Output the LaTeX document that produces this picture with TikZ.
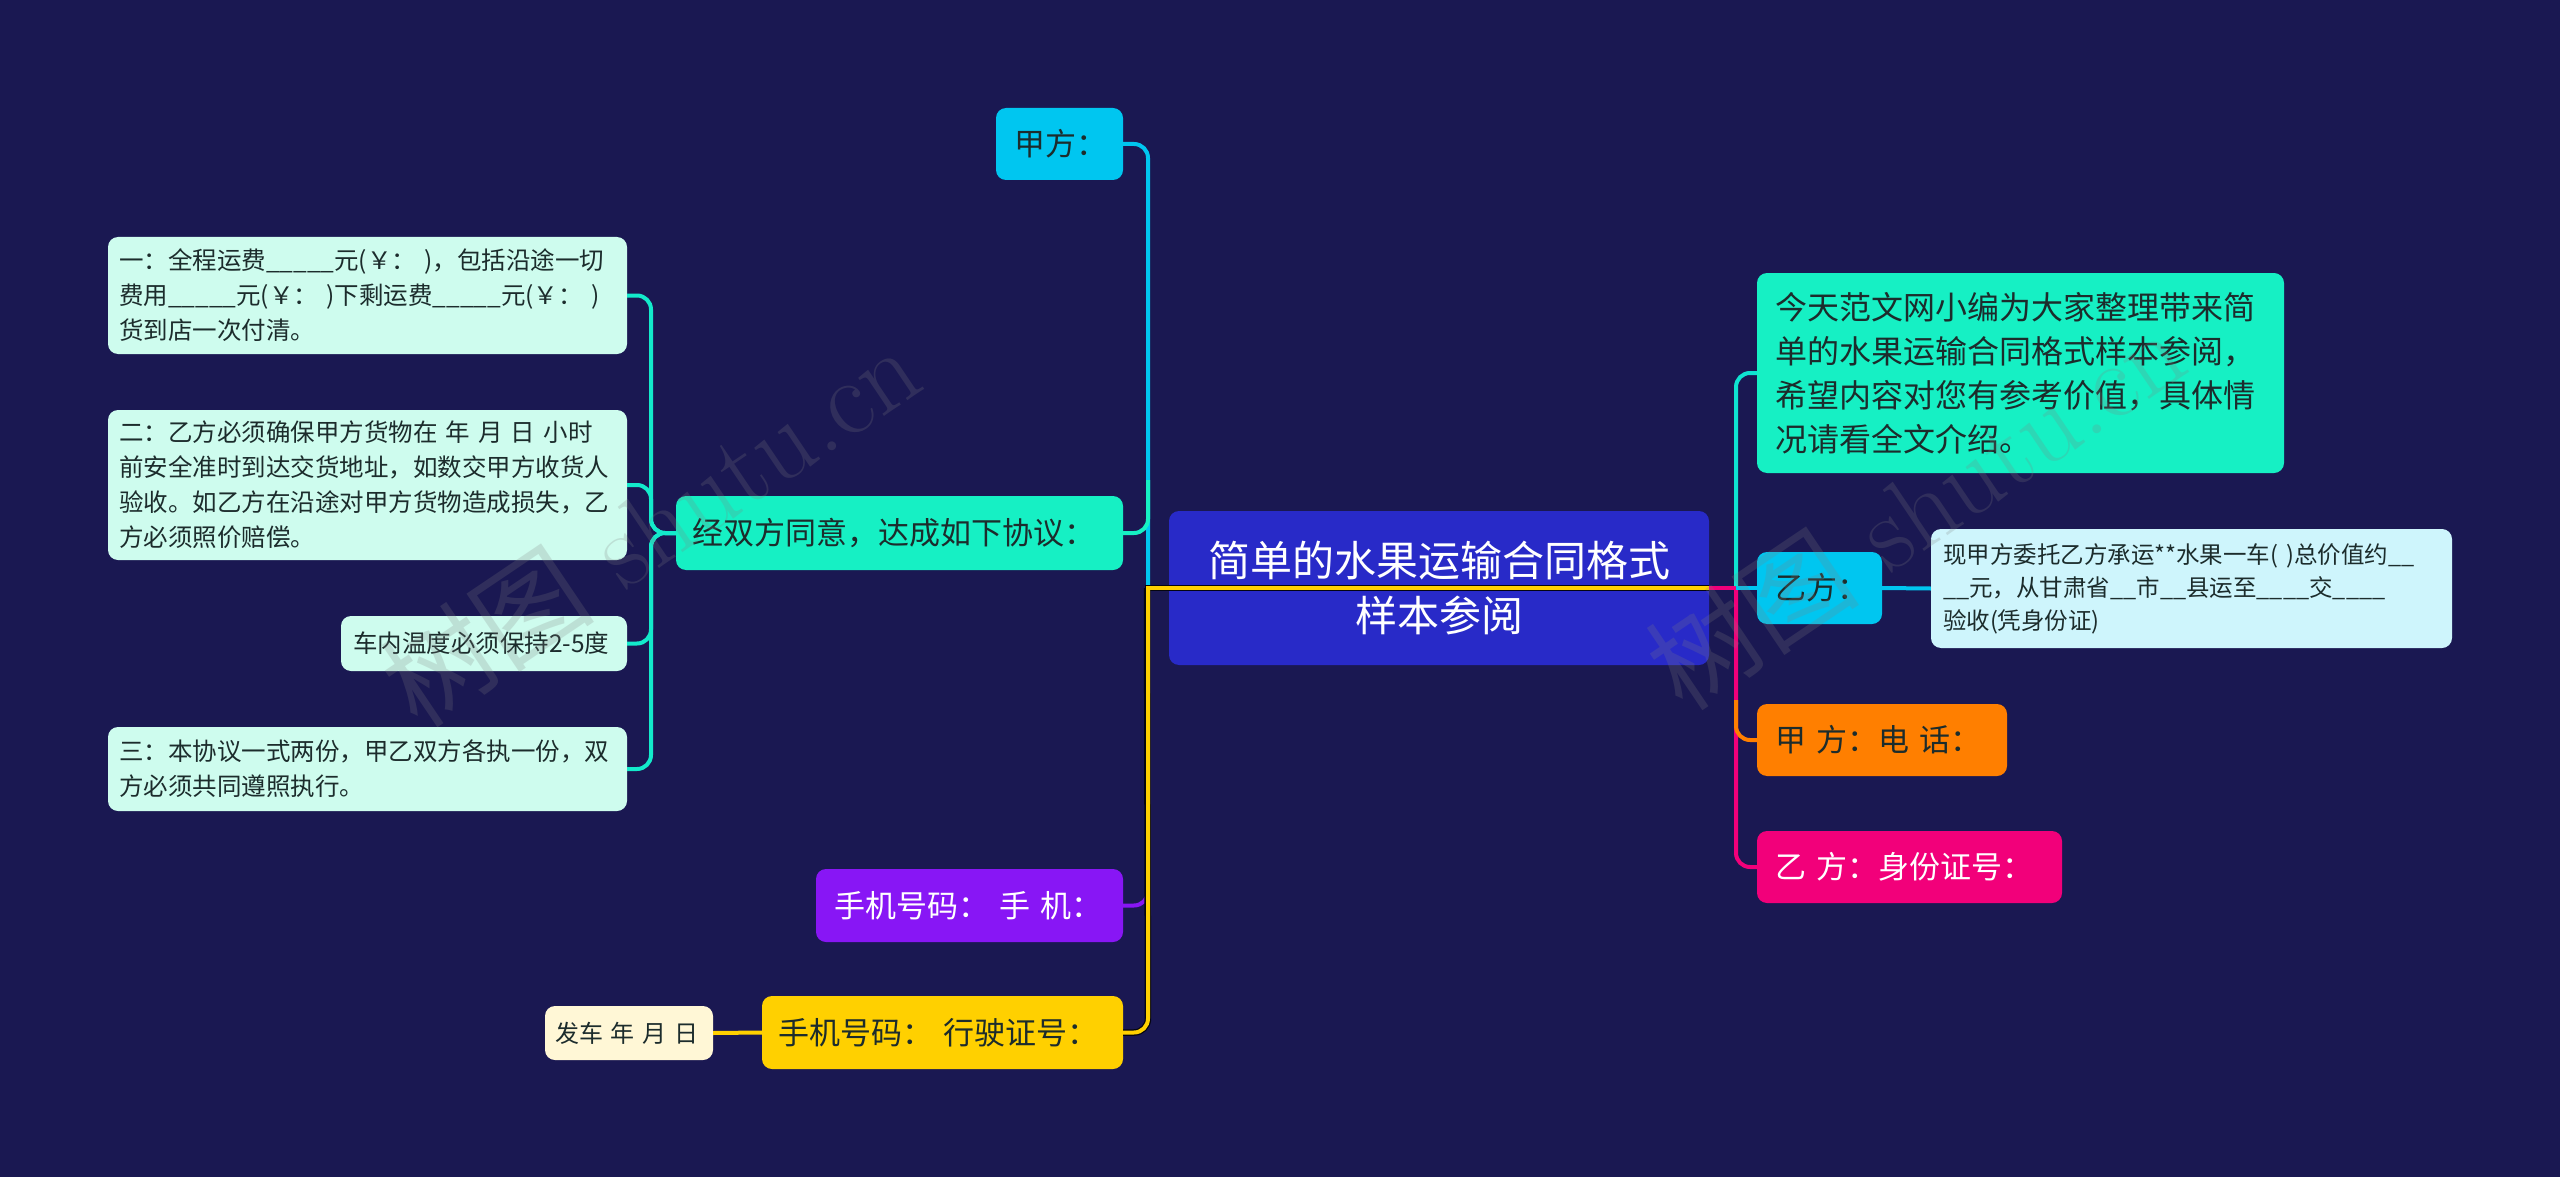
\documentclass[tikz,border=0pt]{standalone}
\usepackage{fontspec}
\newfontfamily\cjk{Noto Sans CJK SC}
\definecolor{bg}{RGB}{26,24,82}
\definecolor{cmain}{RGB}{40,42,200}
\definecolor{ccyan}{RGB}{0,198,240}
\definecolor{caqua}{RGB}{22,240,196}
\definecolor{cpurple}{RGB}{136,22,245}
\definecolor{cyellow}{RGB}{255,208,0}
\definecolor{corange}{RGB}{255,127,0}
\definecolor{cpink}{RGB}{242,0,122}
\definecolor{cmint}{RGB}{206,252,238}
\definecolor{clcyan}{RGB}{206,245,252}
\definecolor{ccream}{RGB}{255,247,214}
\definecolor{ctxt}{RGB}{28,44,44}
\begin{document}
\begin{tikzpicture}[x=1pt,y=-1pt,
  box/.style={rounded corners=10pt, inner ysep=0pt, anchor=center, align=left},
  big/.style={font=\cjk\fontsize{31}{40}\selectfont},
  small/.style={font=\cjk\fontsize{24.5}{35}\selectfont},
  conn/.style={line width=4pt, rounded corners=14pt},
  straight/.style={line width=4pt},
]
\useasboundingbox (0,0) rectangle (2560,1177);
\fill[bg] (0,0) rectangle (2560,1177);

% central
\node[box, fill=cmain, text=white, align=center, minimum width=540pt, minimum height=154pt,
  font=\cjk\fontsize{42}{55}\selectfont] (C) at (1439,588) {简单的水果运输合同格式\\样本参阅};

% left first level
\node[box, big, fill=ccyan, text=ctxt, minimum height=72pt, inner xsep=18pt, text width=91pt] (jia) at (1059.5,144) {甲方：};
\node[box, big, fill=caqua, text=ctxt, minimum height=74pt, inner xsep=16pt, text width=415pt] (xieyi) at (899.5,533) {经双方同意，达成如下协议：};
\node[box, big, fill=cpurple, text=white, minimum height=73pt, inner xsep=18pt, text width=271pt] (sj1) at (969.5,905.5) {手机号码： 手 机：};
\node[box, big, fill=cyellow, text=ctxt, minimum height=73pt, inner xsep=16pt, text width=329pt] (sj2) at (942.5,1032.5) {手机号码： 行驶证号：};
\node[box, fill=ccream, text=ctxt, minimum height=54pt, inner xsep=10pt, text width=148pt,
  font=\cjk\fontsize{24}{35}\selectfont] (fache) at (629,1033) {发车~年~月~日};

% left second level
\node[box, small, fill=cmint, text=ctxt, minimum height=117pt, inner xsep=11pt, text width=497pt] (L1) at (367.5,295.5)
 {一：全程运费\_\_\_\_\_元(￥： )，包括沿途一切\\费用\_\_\_\_\_元(￥： )下剩运费\_\_\_\_\_元(￥： )\\货到店一次付清。};
\node[box, small, fill=cmint, text=ctxt, minimum height=150pt, inner xsep=11pt, text width=497pt] (L2) at (367.5,485)
 {二：乙方必须确保甲方货物在 年 月 日 小时\\前安全准时到达交货地址，如数交甲方收货人\\验收。如乙方在沿途对甲方货物造成损失，乙\\方必须照价赔偿。};
\node[box, small, fill=cmint, text=ctxt, minimum height=55pt, inner xsep=12pt, text width=262pt] (L3) at (484,643.5) {车内温度必须保持2-5度};
\node[box, small, fill=cmint, text=ctxt, minimum height=84pt, inner xsep=11pt, text width=497pt] (L4) at (367.5,769)
 {三：本协议一式两份，甲乙双方各执一份，双\\方必须共同遵照执行。};

% right
\node[box, fill=caqua, text=ctxt, minimum height=200pt, inner xsep=18pt, text width=491pt,
  font=\cjk\fontsize{32}{44}\selectfont] (R1) at (2020.5,373)
 {今天范文网小编为大家整理带来简\\单的水果运输合同格式样本参阅，\\希望内容对您有参考价值，具体情\\况请看全文介绍。};
\node[box, big, fill=ccyan, text=ctxt, minimum height=72pt, inner xsep=18pt, text width=89pt] (yi) at (1819.5,588) {乙方：};
\node[box, fill=clcyan, text=ctxt, minimum height=119pt, inner xsep=12pt, text width=497pt,
  font=\cjk\fontsize{23.5}{33}\selectfont] (yic) at (2191.5,588.5)
 {现甲方委托乙方承运**水果一车( )总价值约\_\_\\\_\_元，从甘肃省\_\_市\_\_县运至\_\_\_\_交\_\_\_\_\\验收(凭身份证)};
\node[box, big, fill=corange, text=ctxt, minimum height=72pt, inner xsep=18pt, text width=214pt] (jiatel) at (1882,740) {甲 方：电 话：};
\node[box, big, fill=cpink, text=white, minimum height=72pt, inner xsep=18pt, text width=269pt] (yiid) at (1909.5,867) {乙 方：身份证号：};

% named junction points
\coordinate (LJ) at (1148,588);
\coordinate (RJ) at (1736,588);
\coordinate (SJ) at (651,533);

% second-level connectors (left)
\foreach \n/\yy in {L1/295.5, L2/485, L3/643.5, L4/769}{
  \draw[conn, caqua!85!ccyan] (xieyi.west) -- (SJ) -- (651,\yy) -- (\n.east);
}
\draw[straight, cyellow] (sj2.west) -- (fache.east);
\draw[straight, ccyan] (yi.east) -- (yic.west);

% right first-level connectors
\draw[straight, cpink] (C.center) -- ([xshift=2pt]RJ);
\draw[conn, cpink] ([yshift=-2pt]RJ) -- (1736,867) -- (yiid.west);
\draw[conn, corange] (1736,700) -- (1736,740) -- (jiatel.west);
\draw[conn, caqua!70!ccyan] ([yshift=2pt]RJ) -- (1736,373) -- (R1.west);
\draw[straight, ccyan] (RJ) -- (yi.west);

% left first-level connectors
\draw[conn, ccyan] ([yshift=2pt]LJ) -- (1148,144) -- (jia.east);
\draw[conn, caqua] (1148,480) -- (1148,533) -- (xieyi.east);
\draw[conn, cpurple] (1148,860) -- (1148,905.5) -- (sj1.east);
\draw[line width=6.5pt, rounded corners=14pt, black!80!bg] ([xshift=-1pt]LJ) -- (1148,1032.5) -- (sj2.east);
\draw[line width=6.5pt, black!80!bg] (C.east) -- ([xshift=-3pt]LJ);
\draw[conn, cyellow] ([yshift=-2pt]LJ) -- (1148,1032.5) -- (sj2.east);
\draw[straight, cyellow] (C.east) -- ([xshift=-2pt]LJ);

% watermarks
\node[rotate=34, opacity=0.22, text=gray, font=\fontsize{108}{108}\selectfont] (wm1) at (650,525) {{\cjk 树图} shutu.cn};
\node[rotate=34, opacity=0.22, text=gray, font=\fontsize{108}{108}\selectfont] (wm2) at (1915,508) {{\cjk 树图} shutu.cn};
\end{tikzpicture}
\end{document}
